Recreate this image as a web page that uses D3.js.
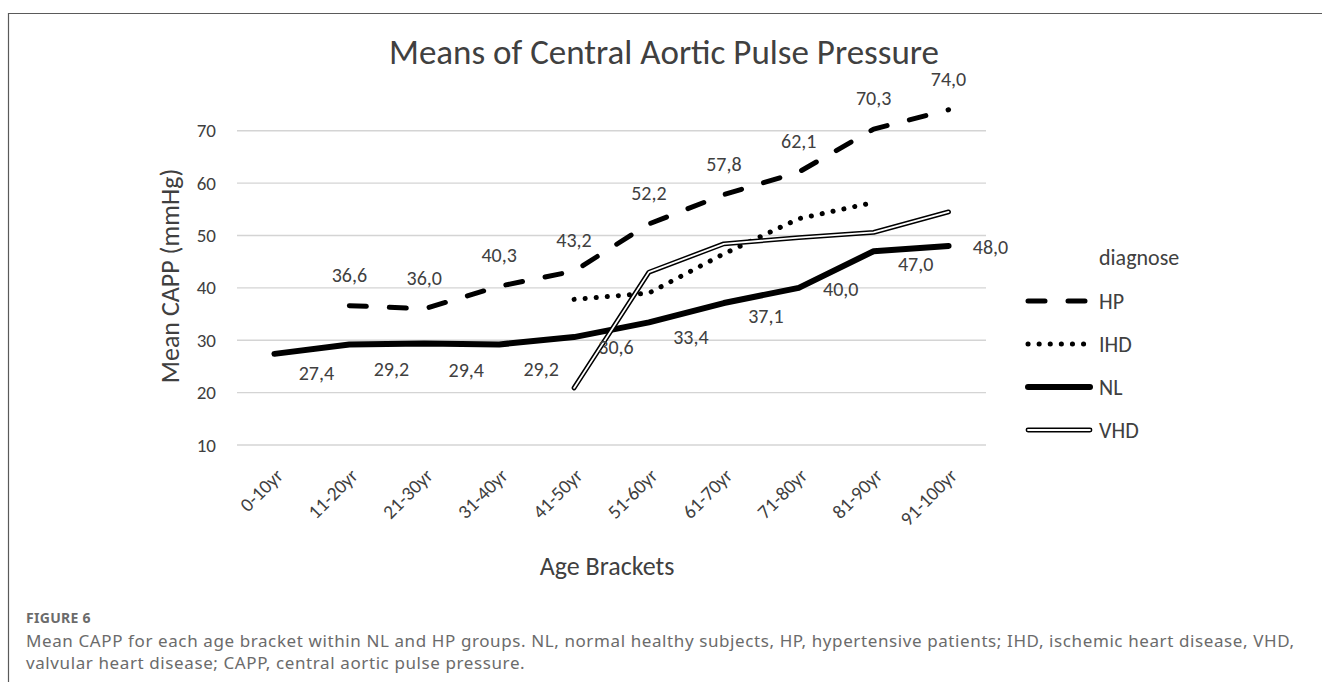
<!DOCTYPE html>
<html>
<head>
<meta charset="utf-8">
<script src="https://cdn.jsdelivr.net/npm/d3@7"></script>
<style>
  body { margin: 0; background: #fff; }
  svg { display: block; }
  .chart-text { font-family: Carlito, Calibri, Lato, sans-serif; fill: #404040; }
  .caption { font-family: "Noto Sans", "Open Sans", sans-serif; fill: #6b6b6b; }
</style>
</head>
<body>
<svg id="chart" width="1322" height="682"></svg>
<script>
// data
const ageBrackets = ['0-10yr', '11-20yr', '21-30yr', '31-40yr', '41-50yr', '51-60yr', '61-70yr', '71-80yr', '81-90yr', '91-100yr'];
const hpValues  = [null, 36.6, 36.0, 40.3, 43.2, 52.2, 57.8, 62.1, 70.3, 74.0];
const ihdValues = [null, null, null, null, 37.8, 39.0, 46.5, 53.2, 56.3, null];
const nlValues  = [27.4, 29.2, 29.4, 29.2, 30.6, 33.4, 37.1, 40.0, 47.0, 48.0];
const vhdValues = [null, null, null, null, 20.9, 43.0, 48.4, 49.6, 50.6, 54.5];
const yTicks = [10, 20, 30, 40, 50, 60, 70];
const seriesNames = ['HP', 'IHD', 'NL', 'VHD'];

// the NL labels were nudged by hand in the original, keep those nudges here
const nlLabelDy = [19, 25, 27, 25, 10, 15, 13, 1, 13, 1];

const svg = d3.select('#chart');

const x = d3.scalePoint().domain(ageBrackets).range([237, 986]).padding(0.5);
const y = d3.scaleLinear().domain([10, 70]).range([445, 130.7]);

// outer frame (only top and left edges fall inside the picture)
svg.append('path')
    .attr('d', 'M 8.5 682 V 13.5 H 1322')
    .attr('fill', 'none').attr('stroke', '#5a5a5a').attr('stroke-width', 1.2);

// title
svg.append('text').attr('class', 'chart-text')
    .attr('x', 664).attr('y', 64)
    .attr('text-anchor', 'middle')
    .style('font-size', '35px')
    .text('Means of Central Aortic Pulse Pressure');

// gridlines
svg.append('g').selectAll('line').data(yTicks).join('line')
    .attr('x1', 237).attr('x2', 986)
    .attr('y1', d => y(d)).attr('y2', d => y(d))
    .attr('stroke', '#d4d4d4').attr('stroke-width', 1.4);

// y axis (labels only)
const yAxis = svg.append('g')
    .attr('transform', 'translate(222,0)')
    .call(d3.axisLeft(y).tickValues(yTicks).tickSize(0).tickPadding(6));
yAxis.select('.domain').remove();
yAxis.selectAll('text').attr('class', 'chart-text').style('font-size', '19px');

// x axis labels, rotated
svg.append('g').selectAll('text').data(ageBrackets).join('text')
    .attr('class', 'chart-text')
    .attr('text-anchor', 'end')
    .attr('transform', d => `translate(${x(d) + 5},${472}) rotate(-45)`)
    .attr('dy', '0.35em')
    .style('font-size', '19.5px')
    .text(d => d);

// axis titles
svg.append('text').attr('class', 'chart-text')
    .attr('transform', 'translate(170,276) rotate(-90)')
    .attr('text-anchor', 'middle').attr('dy', '0.35em')
    .style('font-size', '26px')
    .text('Mean CAPP (mmHg)');

svg.append('text').attr('class', 'chart-text')
    .attr('x', 607).attr('y', 566).attr('dy', '0.35em')
    .attr('text-anchor', 'middle')
    .style('font-size', '26px')
    .text('Age Brackets');

// line generator, gaps for missing brackets
const line = d3.line()
    .defined(d => d.v !== null)
    .x(d => x(d.cat))
    .y(d => y(d.v));

function pts(values) {
    return values.map((v, i) => ({ cat: ageBrackets[i], v: v }));
}

const styles = {
    HP:  [{ stroke: '#000', width: 5, dash: '17 23' }],
    IHD: [{ stroke: '#000', width: 5, dash: '0.1 11' }],
    NL:  [{ stroke: '#000', width: 6, dash: null }],
    VHD: [{ stroke: '#000', width: 4.8, dash: null }, { stroke: '#fff', width: 1.8, dash: null }]
};
const seriesValues = { HP: hpValues, IHD: ihdValues, NL: nlValues, VHD: vhdValues };

const drawOrder = ['NL', 'IHD', 'VHD', 'HP'];
for (const name of drawOrder) {
    for (const s of styles[name]) {
        svg.append('path')
            .datum(pts(seriesValues[name]))
            .attr('d', line)
            .attr('fill', 'none')
            .attr('stroke', s.stroke)
            .attr('stroke-width', s.width)
            .attr('stroke-linecap', 'round')
            .attr('stroke-linejoin', 'round')
            .attr('stroke-dasharray', s.dash);
    }
}

// data labels
const fmt = v => v.toFixed(1).replace('.', ',');

svg.append('g').selectAll('text')
    .data(pts(hpValues).filter(d => d.v !== null)).join('text')
    .attr('class', 'chart-text')
    .attr('x', d => x(d.cat)).attr('y', d => y(d.v) - 31)
    .attr('dy', '0.35em').attr('text-anchor', 'middle')
    .style('font-size', '20px')
    .text(d => fmt(d.v));

svg.append('g').selectAll('text')
    .data(pts(nlValues)).join('text')
    .attr('class', 'chart-text')
    .attr('x', d => x(d.cat) + 42).attr('y', (d, i) => y(d.v) + nlLabelDy[i])
    .attr('dy', '0.35em').attr('text-anchor', 'middle')
    .style('font-size', '20px')
    .text(d => fmt(d.v));

// legend
const legend = svg.append('g');
legend.append('text').attr('class', 'chart-text')
    .attr('x', 1099).attr('y', 257).attr('dy', '0.35em')
    .style('font-size', '22px').text('diagnose');

seriesNames.forEach((name, i) => {
    const ly = 301 + i * 43;
    for (const s of styles[name]) {
        legend.append('line')
            .attr('x1', 1028).attr('x2', 1090)
            .attr('y1', ly).attr('y2', ly)
            .attr('stroke', s.stroke)
            .attr('stroke-width', s.width)
            .attr('stroke-linecap', 'round')
            .attr('stroke-dasharray', s.dash);
    }
    legend.append('text').attr('class', 'chart-text')
        .attr('x', 1099).attr('y', ly).attr('dy', '0.35em')
        .style('font-size', '22px').text(name);
});

// figure caption
svg.append('text').attr('class', 'caption')
    .attr('x', 26).attr('y', 623)
    .style('font-size', '14px').style('font-weight', 'bold')
    .style('letter-spacing', '0.3px')
    .text('FIGURE 6');

const captionLines = [
    'Mean CAPP for each age bracket within NL and HP groups. NL, normal healthy subjects, HP, hypertensive patients; IHD, ischemic heart disease, VHD,',
    'valvular heart disease; CAPP, central aortic pulse pressure.'
];
svg.append('g').selectAll('text').data(captionLines).join('text')
    .attr('class', 'caption')
    .attr('x', 26).attr('y', (d, i) => 647 + i * 21.5)
    .style('font-size', '17px')
    .style('letter-spacing', '0.6px')
    .text(d => d);
</script>
</body>
</html>
